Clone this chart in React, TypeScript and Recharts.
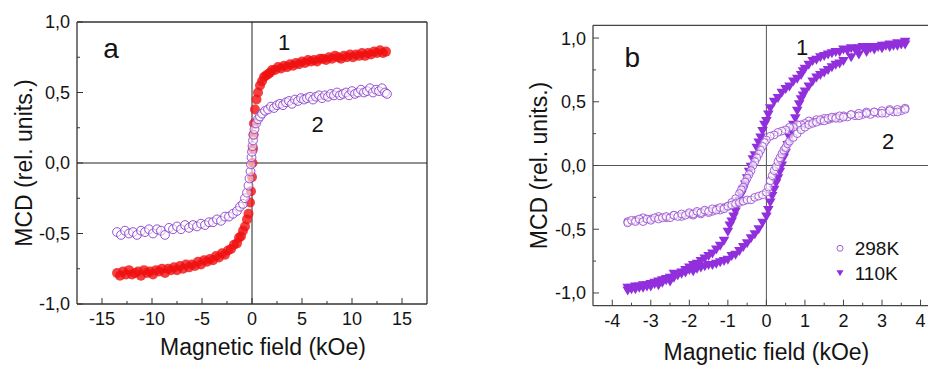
import React from 'react';
import { ScatterChart, Scatter, XAxis, YAxis, ReferenceLine, ReferenceDot, Legend } from 'recharts';

// ---- panel a: MCD vs field, two samples (1 = filled red, 2 = open purple)
const fieldA1 = [
  -13.5, -13.2, -12.9, -12.6, -12.3, -12.0, -11.7, -11.4, -11.1, -10.8,
  -10.5, -10.2, -9.9, -9.6, -9.3, -9.0, -8.7, -8.4, -8.1, -7.8,
  -7.5, -7.2, -6.9, -6.6, -6.3, -6.0, -5.7, -5.4, -5.1, -4.8,
  -4.5, -4.2, -3.9, -3.6, -3.3, -3.0, -2.7, -2.4, -2.1, -1.8,
  -1.5, -1.3, -1.1, -0.9, -0.7, -0.5, -0.35, -0.2, -0.1, 0.0,
  0.05, 0.1, 0.15, 0.2, 0.3, 0.45, 0.6, 0.8, 1.0, 1.2,
  1.4, 1.6, 1.8, 2.0, 2.3, 2.6, 2.9, 3.2, 3.5, 3.8,
  4.1, 4.4, 4.7, 5.0, 5.3, 5.6, 5.9, 6.2, 6.5, 6.8,
  7.1, 7.4, 7.7, 8.0, 8.3, 8.6, 8.9, 9.2, 9.5, 9.8,
  10.1, 10.4, 10.7, 11.0, 11.3, 11.6, 11.9, 12.2, 12.5, 12.8,
  13.1, 13.4,
];
const mcdA1 = [
  -0.78, -0.80, -0.77, -0.79, -0.76, -0.79, -0.78, -0.77, -0.80, -0.76,
  -0.78, -0.77, -0.79, -0.76, -0.77, -0.75, -0.78, -0.75, -0.76, -0.74,
  -0.76, -0.73, -0.75, -0.72, -0.74, -0.72, -0.73, -0.70, -0.72, -0.69,
  -0.70, -0.68, -0.69, -0.66, -0.67, -0.64, -0.65, -0.62, -0.61, -0.58,
  -0.57, -0.53, -0.52, -0.48, -0.45, -0.40, -0.36, -0.28, -0.20, -0.10,
  0.00, 0.10, 0.20, 0.28, 0.38, 0.45, 0.50, 0.55, 0.58, 0.61,
  0.62, 0.63, 0.64, 0.66, 0.66, 0.68, 0.67, 0.69, 0.68, 0.70,
  0.69, 0.71, 0.70, 0.72, 0.71, 0.73, 0.72, 0.73, 0.72, 0.74,
  0.74, 0.73, 0.75, 0.74, 0.76, 0.75, 0.74, 0.76, 0.75, 0.77,
  0.75, 0.77, 0.76, 0.78, 0.76, 0.78, 0.77, 0.79, 0.78, 0.80,
  0.78, 0.79,
];
const fieldA2 = [
  -13.5, -13.1, -12.7, -12.3, -11.9, -11.5, -11.1, -10.7, -10.3, -9.9,
  -9.5, -9.1, -8.7, -8.3, -7.9, -7.5, -7.1, -6.7, -6.3, -5.9,
  -5.5, -5.1, -4.7, -4.3, -3.9, -3.5, -3.1, -2.7, -2.3, -1.9,
  -1.5, -1.2, -0.9, -0.7, -0.5, -0.35, -0.25, -0.15, -0.1, -0.05,
  0.0, 0.05, 0.1, 0.15, 0.25, 0.4, 0.6, 0.8, 1.0, 1.3,
  1.6, 1.9, 2.2, 2.5, 2.8, 3.1, 3.4, 3.7, 4.0, 4.3,
  4.6, 4.9, 5.2, 5.5, 5.8, 6.1, 6.4, 6.7, 7.0, 7.3,
  7.6, 7.9, 8.2, 8.5, 8.8, 9.1, 9.4, 9.7, 10.0, 10.3,
  10.6, 10.9, 11.2, 11.5, 11.8, 12.1, 12.4, 12.7, 13.0, 13.3,
  13.5,
];
const mcdA2 = [
  -0.49, -0.51, -0.48, -0.50, -0.49, -0.51, -0.48, -0.49, -0.47, -0.50,
  -0.47, -0.48, -0.51, -0.46, -0.47, -0.45, -0.47, -0.44, -0.46, -0.44,
  -0.45, -0.43, -0.44, -0.42, -0.42, -0.40, -0.41, -0.38, -0.38, -0.36,
  -0.34, -0.31, -0.29, -0.25, -0.21, -0.16, -0.11, -0.06, -0.01, 0.04,
  0.08, 0.12, 0.16, 0.20, 0.24, 0.28, 0.31, 0.33, 0.35, 0.37,
  0.38, 0.40, 0.39, 0.41, 0.42, 0.41, 0.43, 0.44, 0.42, 0.45,
  0.44, 0.46, 0.45, 0.46, 0.47, 0.45, 0.47, 0.48, 0.46, 0.48,
  0.47, 0.49, 0.48, 0.50, 0.48, 0.49, 0.50, 0.48, 0.51, 0.49,
  0.50, 0.52, 0.50, 0.51, 0.53, 0.50, 0.52, 0.51, 0.53, 0.50,
  0.49,
];

// ---- panel b: hysteresis loops, 110K (triangles) and 298K (circles)
const field110Down = [
  3.6, 3.5, 3.4, 3.3, 3.2, 3.1, 3.0, 2.9, 2.8, 2.7,
  2.6, 2.5, 2.4, 2.3, 2.2, 2.1, 2.0, 1.9, 1.8, 1.7,
  1.6, 1.5, 1.4, 1.3, 1.2, 1.1, 1.0, 0.95, 0.9, 0.8,
  0.7, 0.6, 0.5, 0.4, 0.3, 0.2, 0.1, 0.05, 0.0, -0.05,
  -0.1, -0.15, -0.2, -0.25, -0.3, -0.35, -0.4, -0.45, -0.5, -0.55,
  -0.6, -0.65, -0.7, -0.75, -0.8, -0.85, -0.9, -0.95, -1.0, -1.1,
  -1.2, -1.3, -1.4, -1.5, -1.6, -1.7, -1.8, -1.9, -2.0, -2.1,
  -2.2, -2.3, -2.4, -2.5, -2.6, -2.7, -2.8, -2.9, -3.0, -3.1,
  -3.2, -3.3, -3.4, -3.5, -3.6,
];
const mcd110Down = [
  0.97, 0.95, 0.96, 0.94, 0.95, 0.94, 0.94, 0.93, 0.93, 0.92,
  0.93, 0.93, 0.92, 0.91, 0.92, 0.90, 0.91, 0.89, 0.89, 0.88,
  0.87, 0.86, 0.85, 0.83, 0.82, 0.79, 0.76, 0.74, 0.71, 0.68,
  0.66, 0.62, 0.60, 0.57, 0.53, 0.50, 0.45, 0.40, 0.35, 0.32,
  0.27, 0.22, 0.18, 0.14, 0.08, 0.05, -0.01, -0.05, -0.10, -0.15,
  -0.19, -0.23, -0.28, -0.31, -0.36, -0.40, -0.44, -0.47, -0.52, -0.59,
  -0.63, -0.66, -0.69, -0.71, -0.73, -0.75, -0.77, -0.78, -0.80, -0.82,
  -0.84, -0.86, -0.85, -0.88, -0.89, -0.90, -0.91, -0.92, -0.93, -0.95,
  -0.94, -0.96, -0.95, -0.97, -0.96,
];
const field110Up = [
  -3.6, -3.5, -3.4, -3.3, -3.2, -3.1, -3.0, -2.9, -2.8, -2.7,
  -2.6, -2.5, -2.4, -2.3, -2.2, -2.1, -2.0, -1.9, -1.8, -1.7,
  -1.6, -1.5, -1.4, -1.3, -1.2, -1.1, -1.0, -0.9, -0.8, -0.7,
  -0.6, -0.5, -0.4, -0.3, -0.2, -0.1, 0.0, 0.05, 0.1, 0.15,
  0.2, 0.25, 0.3, 0.35, 0.4, 0.45, 0.5, 0.55, 0.6, 0.65,
  0.7, 0.75, 0.8, 0.85, 0.9, 0.95, 1.0, 1.1, 1.2, 1.3,
  1.4, 1.5, 1.6, 1.7, 1.8, 1.9, 2.0, 2.2, 2.4, 2.6,
  2.8, 3.0, 3.2, 3.4, 3.6,
];
const mcd110Up = [
  -0.98, -0.96, -0.97, -0.95, -0.96, -0.94, -0.95, -0.93, -0.94, -0.92,
  -0.90, -0.91, -0.88, -0.86, -0.85, -0.84, -0.82, -0.83, -0.81, -0.80,
  -0.79, -0.78, -0.78, -0.77, -0.76, -0.75, -0.74, -0.71, -0.70, -0.67,
  -0.64, -0.61, -0.57, -0.54, -0.50, -0.45, -0.40, -0.35, -0.29, -0.24,
  -0.19, -0.14, -0.10, -0.05, 0.00, 0.06, 0.10, 0.16, 0.22, 0.27,
  0.32, 0.37, 0.43, 0.48, 0.52, 0.55, 0.58, 0.62, 0.66, 0.69,
  0.71, 0.73, 0.75, 0.77, 0.79, 0.80, 0.82, 0.85, 0.87, 0.89,
  0.91, 0.92, 0.93, 0.94, 0.95,
];
const field298Down = [
  3.6, 3.5, 3.4, 3.3, 3.2, 3.1, 3.0, 2.9, 2.8, 2.7,
  2.6, 2.5, 2.4, 2.3, 2.2, 2.1, 2.0, 1.9, 1.8, 1.7,
  1.6, 1.5, 1.4, 1.3, 1.2, 1.1, 1.0, 0.9, 0.8, 0.7,
  0.6, 0.5, 0.4, 0.3, 0.2, 0.1, 0.0, -0.05, -0.1, -0.15,
  -0.2, -0.25, -0.3, -0.35, -0.4, -0.45, -0.5, -0.55, -0.6, -0.65,
  -0.7, -0.8, -0.9, -1.0, -1.1, -1.2, -1.3, -1.4, -1.5, -1.6,
  -1.7, -1.8, -1.9, -2.0, -2.2, -2.4, -2.6, -2.8, -3.0, -3.2,
  -3.4, -3.6,
];
const mcd298Down = [
  0.45, 0.43, 0.44, 0.42, 0.44, 0.41, 0.43, 0.41, 0.42, 0.40,
  0.42, 0.40, 0.41, 0.39, 0.40, 0.38, 0.39, 0.37, 0.38, 0.37,
  0.36, 0.37, 0.35, 0.36, 0.34, 0.35, 0.33, 0.32, 0.32, 0.30,
  0.30, 0.28, 0.27, 0.26, 0.24, 0.23, 0.20, 0.18, 0.15, 0.12,
  0.09, 0.06, 0.03, 0.00, -0.04, -0.07, -0.10, -0.13, -0.17, -0.19,
  -0.22, -0.26, -0.29, -0.32, -0.33, -0.35, -0.34, -0.36, -0.37, -0.36,
  -0.38, -0.37, -0.39, -0.38, -0.40, -0.39, -0.41, -0.40, -0.42, -0.41,
  -0.43, -0.44,
];
const field298Up = [
  -3.6, -3.5, -3.4, -3.3, -3.2, -3.1, -3.0, -2.9, -2.8, -2.7,
  -2.6, -2.5, -2.4, -2.3, -2.2, -2.1, -2.0, -1.9, -1.8, -1.7,
  -1.6, -1.5, -1.4, -1.3, -1.2, -1.1, -1.0, -0.9, -0.8, -0.7,
  -0.6, -0.5, -0.4, -0.3, -0.2, -0.1, 0.0, 0.05, 0.1, 0.15,
  0.2, 0.25, 0.3, 0.35, 0.4, 0.45, 0.5, 0.55, 0.6, 0.7,
  0.8, 0.9, 1.0, 1.1, 1.2, 1.3, 1.4, 1.5, 1.6, 1.7,
  1.8, 1.9, 2.0, 2.2, 2.4, 2.6, 2.8, 3.0, 3.2, 3.4,
  3.6,
];
const mcd298Up = [
  -0.45, -0.43, -0.44, -0.42, -0.44, -0.42, -0.43, -0.41, -0.42, -0.41,
  -0.40, -0.41, -0.39, -0.40, -0.38, -0.39, -0.37, -0.38, -0.36, -0.37,
  -0.35, -0.36, -0.34, -0.35, -0.33, -0.34, -0.32, -0.31, -0.30, -0.29,
  -0.28, -0.27, -0.27, -0.25, -0.24, -0.23, -0.21, -0.17, -0.12, -0.08,
  -0.04, -0.01, 0.03, 0.06, 0.09, 0.12, 0.14, 0.17, 0.19, 0.22,
  0.25, 0.28, 0.30, 0.32, 0.33, 0.34, 0.36, 0.35, 0.37, 0.38,
  0.37, 0.39, 0.38, 0.40, 0.39, 0.41, 0.42, 0.41, 0.43, 0.42,
  0.44,
];

// ---- ticks
const xMajorA = [-15, -10, -5, 0, 5, 10, 15];
const xMinorA = [-12.5, -7.5, -2.5, 2.5, 7.5, 12.5];
const xMajorB = [-4, -3, -2, -1, 0, 1, 2, 3, 4];
const xMinorB = [-3.5, -2.5, -1.5, -0.5, 0.5, 1.5, 2.5, 3.5];
const yMajor = [-1, -0.5, 0, 0.5, 1];
const yMinor = [-0.75, -0.25, 0.25, 0.75];
const legendNamesB = ['298K', '110K'];

const FONT = '"Liberation Sans", Arial, Helvetica, sans-serif';
const INK = '#141414';

const toPoints = (xs: number[], ys: number[]) => xs.map((x, i) => ({ x, y: ys[i] }));
const commaFmt = (v: number) => v.toFixed(1).replace('.', ',');

const dataA1 = toPoints(fieldA1, mcdA1);
const dataA2 = toPoints(fieldA2, mcdA2);
const data110 = [...toPoints(field110Down, mcd110Down), ...toPoints(field110Up, mcd110Up)];
const data298 = [...toPoints(field298Down, mcd298Down), ...toPoints(field298Up, mcd298Up)];

// ticks are drawn by hand so they point inwards and minor ones stay short
const BottomTick = ({ x, y, payload, majors, stroke }: any) => {
  const major = majors.includes(payload.value);
  return (
    <g>
      <line x1={x} x2={x} y1={y} y2={y - (major ? 6 : 3)} stroke={stroke} strokeWidth={1} />
      {major && (
        <text x={x} y={y + 21} textAnchor="middle" fontSize={18} fill={INK}>
          {String(payload.value)}
        </text>
      )}
    </g>
  );
};

const LeftTick = ({ x, y, payload, stroke }: any) => {
  const major = yMajor.includes(payload.value);
  return (
    <g>
      <line x1={x} x2={x + (major ? 6 : 3)} y1={y} y2={y} stroke={stroke} strokeWidth={1} />
      {major && (
        <text x={x - 7} y={y} dy="0.36em" textAnchor="end" fontSize={18} fill={INK}>
          {commaFmt(payload.value)}
        </text>
      )}
    </g>
  );
};

const xTitle = (shift: number, drop: number) => (props: any) => {
  const vb = props.viewBox || {};
  return (
    <text x={vb.x + vb.width / 2 + shift} y={vb.y + drop} textAnchor="middle" fontSize={23} fill={INK}>
      Magnetic field (kOe)
    </text>
  );
};

const yTitle = (base: number) => (props: any) => {
  const vb = props.viewBox || {};
  const cx = vb.x + base;
  const cy = vb.y + vb.height / 2;
  return (
    <text x={cx} y={cy} transform={`rotate(-90, ${cx}, ${cy})`} textAnchor="middle" fontSize={23} fill={INK}>
      MCD (rel. units.)
    </text>
  );
};

const redDot = (p: any) => <circle cx={p.cx} cy={p.cy} r={5} fill="#f01010" fillOpacity={0.8} />;
const ringA = (p: any) => (
  <circle cx={p.cx} cy={p.cy} r={4.4} fill="#fff" fillOpacity={0.55} stroke="#8a40cc" strokeWidth={0.9} />
);
const ringB = (p: any) => (
  <circle cx={p.cx} cy={p.cy} r={3.9} fill="#fff" fillOpacity={0.6} stroke="#9b50d0" strokeWidth={0.9} />
);
const triDown = (p: any) => (
  <path d={`M${p.cx - 5.3},${p.cy - 4}L${p.cx + 5.3},${p.cy - 4}L${p.cx},${p.cy + 5}Z`} fill="#922fdc" />
);

const LegendB = () => (
  <svg width={90} height={52} style={{ overflow: 'visible' }}>
    <circle cx={10} cy={12.3} r={3} fill="none" stroke="#a060d4" strokeWidth={1} />
    <text x={24.7} y={19} fontSize={19} fill={INK} fontFamily={FONT}>{legendNamesB[0]}</text>
    <path d="M6.5,34.3L13.5,34.3L10,40.3Z" fill="#922fdc" />
    <text x={24.7} y={44} fontSize={19} fill={INK} fontFamily={FONT}>{legendNamesB[1]}</text>
  </svg>
);

const PanelA = () => (
  <ScatterChart width={464} height={365} margin={{ top: 22, right: 37, bottom: 0, left: 0 }}>
    <XAxis
      type="number"
      dataKey="x"
      domain={[-17.5, 17.5]}
      ticks={[...xMajorA, ...xMinorA]}
      interval={0}
      height={61}
      tickSize={0}
      tickMargin={0}
      tickLine={false}
      axisLine={{ stroke: '#333', strokeWidth: 1.3 }}
      tick={(p: any) => <BottomTick {...p} majors={xMajorA} stroke="#333" />}
      label={{ content: xTitle(11, 50.5) }}
    />
    <YAxis
      type="number"
      dataKey="y"
      domain={[-1, 1]}
      ticks={[...yMajor, ...yMinor]}
      interval={0}
      width={77}
      tickSize={0}
      tickMargin={0}
      tickLine={false}
      axisLine={{ stroke: '#333', strokeWidth: 1.3 }}
      tick={(p: any) => <LeftTick {...p} stroke="#333" />}
      label={{ content: yTitle(31.5) }}
    />
    <ReferenceLine y={1} stroke="#333" strokeWidth={1.3} />
    <ReferenceLine x={17.5} stroke="#333" strokeWidth={1.3} />
    <ReferenceLine y={0} stroke="#222" strokeWidth={1} />
    <ReferenceLine x={0} stroke="#222" strokeWidth={1} />
    <Scatter name="1" data={dataA1} shape={redDot} isAnimationActive={false} />
    <Scatter name="2" data={dataA2} shape={ringA} isAnimationActive={false} />
    <ReferenceDot x={-14.1} y={0.813} r={0} fill="none" stroke="none" label={{ value: 'a', position: 'center', fontSize: 28, fill: INK }} />
    <ReferenceDot x={3.22} y={0.857} r={0} fill="none" stroke="none" label={{ value: '1', position: 'center', fontSize: 22, fill: INK }} />
    <ReferenceDot x={6.57} y={0.277} r={0} fill="none" stroke="none" label={{ value: '2', position: 'center', fontSize: 22, fill: INK }} />
  </ScatterChart>
);

const PanelB = () => (
  <ScatterChart width={500} height={365} margin={{ top: 25.3, right: 24.2, bottom: 0, left: 0 }}>
    <XAxis
      type="number"
      dataKey="x"
      domain={[-4.5, 4.5]}
      ticks={[...xMajorB, ...xMinorB]}
      interval={0}
      height={59.3}
      tickSize={0}
      tickMargin={0}
      tickLine={false}
      axisLine={{ stroke: '#444', strokeWidth: 1.3 }}
      tick={(p: any) => <BottomTick {...p} majors={xMajorB} stroke="#444" />}
      label={{ content: xTitle(0, 54) }}
    />
    <YAxis
      type="number"
      dataKey="y"
      domain={[-1.1, 1.1]}
      ticks={[...yMajor, ...yMinor]}
      interval={0}
      width={129}
      tickSize={0}
      tickMargin={0}
      tickLine={false}
      axisLine={{ stroke: '#444', strokeWidth: 1.3 }}
      tick={(p: any) => <LeftTick {...p} stroke="#444" />}
      label={{ content: yTitle(83.3) }}
    />
    <ReferenceLine y={1.1} stroke="#444" strokeWidth={1.3} />
    <ReferenceLine x={4.5} stroke="#444" strokeWidth={1.3} />
    <ReferenceLine y={0} stroke="#555" strokeWidth={1} />
    <ReferenceLine x={0} stroke="#555" strokeWidth={1} />
    <Scatter name="110K" data={data110} shape={triDown} isAnimationActive={false} />
    <Scatter name="298K" data={data298} shape={ringB} isAnimationActive={false} />
    <ReferenceDot x={-3.48} y={0.854} r={0} fill="none" stroke="none" label={{ value: 'b', position: 'center', fontSize: 28, fill: INK }} />
    <ReferenceDot x={0.93} y={0.929} r={0} fill="none" stroke="none" label={{ value: '1', position: 'center', fontSize: 22, fill: INK }} />
    <ReferenceDot x={3.16} y={0.192} r={0} fill="none" stroke="none" label={{ value: '2', position: 'center', fontSize: 22, fill: INK }} />
    <Legend
      layout="vertical"
      align="center"
      verticalAlign="middle"
      wrapperStyle={{ left: 366, top: 236, width: 90, height: 52 }}
      content={() => <LegendB />}
    />
  </ScatterChart>
);

export default function App() {
  return (
    <div
      style={{
        position: 'fixed',
        left: 0,
        top: 0,
        width: 928,
        height: 365,
        overflow: 'hidden',
        background: '#fff',
        fontFamily: FONT,
      }}
    >
      <div style={{ position: 'absolute', left: 0, top: 0 }}>
        <PanelA />
      </div>
      <div style={{ position: 'absolute', left: 464, top: 0 }}>
        <PanelB />
      </div>
    </div>
  );
}
